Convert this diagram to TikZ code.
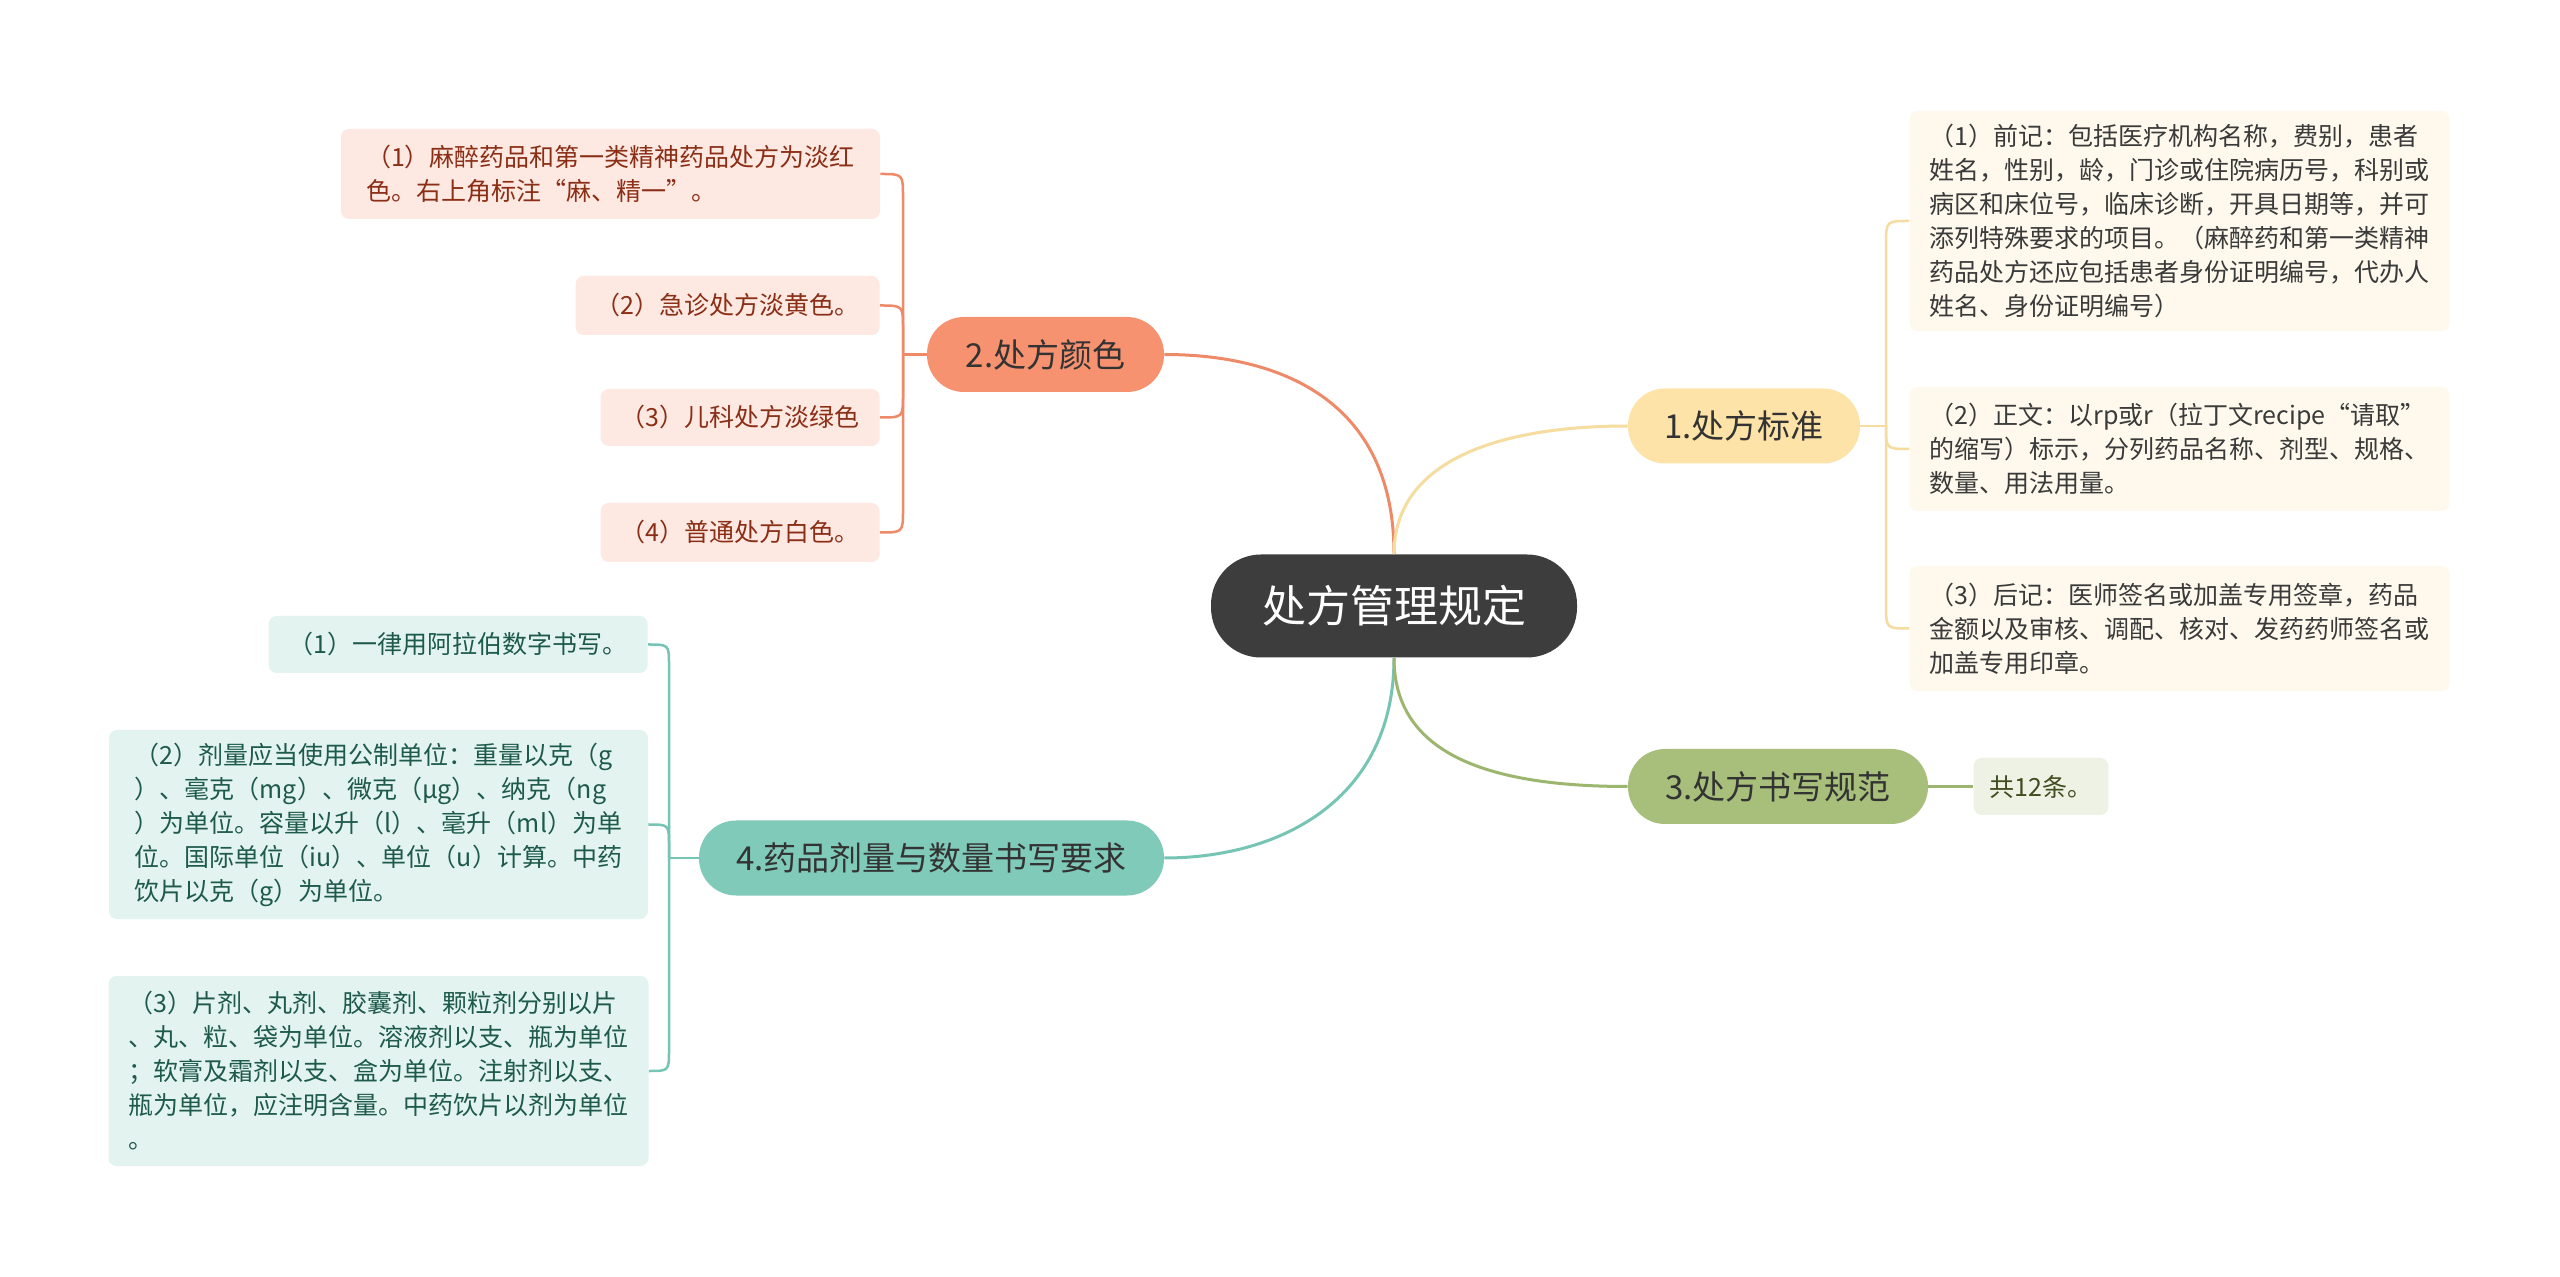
\documentclass[tikz,border=0pt]{standalone}
\usepackage{fontspec}
\setmainfont{Noto Sans CJK SC}
\usetikzlibrary{calc}
\definecolor{cdark}{HTML}{3D3D3D}
\definecolor{ctext}{HTML}{333333}
\definecolor{nfa}{HTML}{FDE3A7}
\definecolor{nfb}{HTML}{F79270}
\definecolor{nfc}{HTML}{A7BF7A}
\definecolor{nfd}{HTML}{80CAB9}
\definecolor{lfa}{HTML}{FEF9EC}
\definecolor{lfb}{HTML}{FDE9E2}
\definecolor{lfc}{HTML}{EEF2E4}
\definecolor{lfd}{HTML}{E3F4F0}
\definecolor{lta}{HTML}{3A3A3A}
\definecolor{ltb}{HTML}{8B2E16}
\definecolor{ltc}{HTML}{3F4D1F}
\definecolor{ltd}{HTML}{1E5A4C}
\definecolor{ea}{HTML}{F6DC9E}
\definecolor{eb}{HTML}{EE8A68}
\definecolor{ec}{HTML}{9DB66F}
\definecolor{ed}{HTML}{76C5B4}
\begin{document}
\begin{tikzpicture}[x=0.5pt,y=-0.5pt,
  mainbox/.style={rectangle, rounded corners=25pt, fill=cdark, text=white,
    font=\fontsize{22}{26}\selectfont, minimum width=183pt, minimum height=51.5pt, inner sep=0pt},
  branchbox/.style={rectangle, rounded corners=18.5pt, minimum height=37.5pt,
    font=\fontsize{16.5}{20}\selectfont, text=ctext, inner sep=0pt},
  leafbox/.style={rectangle, rounded corners=4pt, align=left,
    font=\fontsize{12.5}{17}\selectfont, inner xsep=10pt, inner ysep=0pt},
  mainline/.style={line width=1.5pt},
  leafline/.style={line width=1.25pt}
]
\useasboundingbox[fill=white] (0,0) rectangle (2560,1277);

% central and branch nodes
\node[mainbox] (c) at (1394,606) {处方管理规定};
\node[branchbox, fill=nfa, minimum width=116pt] (n1) at (1744,426) {1.处方标准};
\node[branchbox, fill=nfb, minimum width=118.5pt] (n2) at (1045.5,354.5) {2.处方颜色};
\node[branchbox, fill=nfc, minimum width=150pt] (n3) at (1778,786.5) {3.处方书写规范};
\node[branchbox, fill=nfd, minimum width=232.5pt] (n4) at (931.5,858) {4.药品剂量与数量书写要求};

% branch 1 leaves
\node[leafbox, fill=lfa, text=lta, minimum width=269.5pt, minimum height=110pt] (l1a) at (2179.5,221) {（1）前记：包括医疗机构名称，费别，患者\\姓名，性别，龄，门诊或住院病历号，科别或\\病区和床位号，临床诊断，开具日期等，并可\\添列特殊要求的项目。（麻醉药和第一类精神\\药品处方还应包括患者身份证明编号，代办人\\姓名、身份证明编号）};
\node[leafbox, fill=lfa, text=lta, minimum width=269.5pt, minimum height=62pt] (l1b) at (2179.5,449) {（2）正文：以rp或r（拉丁文recipe“请取”\\的缩写）标示，分列药品名称、剂型、规格、\\数量、用法用量。};
\node[leafbox, fill=lfa, text=lta, minimum width=269.5pt, minimum height=62.5pt] (l1c) at (2179.5,628.5) {（3）后记：医师签名或加盖专用签章，药品\\金额以及审核、调配、核对、发药药师签名或\\加盖专用印章。};

% branch 2 leaves
\node[leafbox, fill=lfb, text=ltb, minimum width=269.5pt, minimum height=45pt] (l2a) at (610.5,174) {（1）麻醉药品和第一类精神药品处方为淡红\\色。右上角标注“麻、精一”。};
\node[leafbox, fill=lfb, text=ltb, minimum height=29.5pt, anchor=east] (l2b) at (880,305.5) {（2）急诊处方淡黄色。};
\node[leafbox, fill=lfb, text=ltb, minimum height=28.5pt, anchor=east] (l2c) at (880,417.5) {（3）儿科处方淡绿色};
\node[leafbox, fill=lfb, text=ltb, minimum height=29.5pt, anchor=east] (l2d) at (880,532.5) {（4）普通处方白色。};

% branch 3 leaf
\node[leafbox, fill=lfc, text=ltc, minimum height=28.5pt, inner xsep=8pt] (l3) at (2041,786.5) {共12条。};

% branch 4 leaves
\node[leafbox, fill=lfd, text=ltd, minimum height=28.5pt, anchor=east] (l4a) at (648,644.5) {（1）一律用阿拉伯数字书写。};
\node[leafbox, fill=lfd, text=ltd, minimum width=269.5pt, minimum height=94.5pt] (l4b) at (378.5,824.5) {（2）剂量应当使用公制单位：重量以克（g\\）、毫克（mg）、微克（μg）、纳克（ng\\）为单位。容量以升（l）、毫升（ml）为单\\位。国际单位（iu）、单位（u）计算。中药\\饮片以克（g）为单位。};
\node[leafbox, fill=lfd, text=ltd, minimum width=269.5pt, minimum height=95pt] (l4c) at (378.5,1071) {（3）片剂、丸剂、胶囊剂、颗粒剂分别以片\\、丸、粒、袋为单位。溶液剂以支、瓶为单位\\；软膏及霜剂以支、盒为单位。注射剂以支、\\瓶为单位，应注明含量。中药饮片以剂为单位\\。};

% main connectors
\draw[mainline, eb] (c.north) .. controls (1394,400) and (1280,354.5) .. (n2.east);
\draw[mainline, ea] (c.north) .. controls (1394,460) and (1500,426) .. (n1.west);
\draw[mainline, ed] (c.south) .. controls (1394,800) and (1280,858) .. (n4.east);
\draw[mainline, ec] (c.south) .. controls (1394,750) and (1480,786.5) .. (n3.west);

% branch 1 connectors
\coordinate (j1) at (1886,426);
\draw[leafline, ea] (n1.east) -- (j1);
\draw[leafline, ea] (j1) -- (1886,245) .. controls (1886,221) .. (l1a.west);
\draw[leafline, ea] (j1) .. controls (1886,449) .. (l1b.west);
\draw[leafline, ea] (j1) -- (1886,604.5) .. controls (1886,628.5) .. (l1c.west);

% branch 2 connectors
\coordinate (j2) at (903,354.5);
\draw[leafline, eb] (n2.west) -- (j2);
\draw[leafline, eb] (j2) -- (903,197) .. controls (903,174) .. (l2a.east);
\draw[leafline, eb] (j2) -- (903,328.5) .. controls (903,305.5) .. (l2b.east);
\draw[leafline, eb] (j2) -- (903,394.5) .. controls (903,417.5) .. (l2c.east);
\draw[leafline, eb] (j2) -- (903,509.5) .. controls (903,532.5) .. (l2d.east);

% branch 3 connector
\draw[leafline, ec] (n3.east) -- (l3.west);

% branch 4 connectors
\coordinate (j4) at (669,858);
\draw[leafline, ed] (n4.west) -- (j4);
\draw[leafline, ed] (j4) -- (669,665.5) .. controls (669,644.5) .. (l4a.east);
\draw[leafline, ed] (j4) -- (669,845.5) .. controls (669,824.5) .. (l4b.east);
\draw[leafline, ed] (j4) -- (669,1050) .. controls (669,1071) .. (l4c.east);
\end{tikzpicture}
\end{document}
